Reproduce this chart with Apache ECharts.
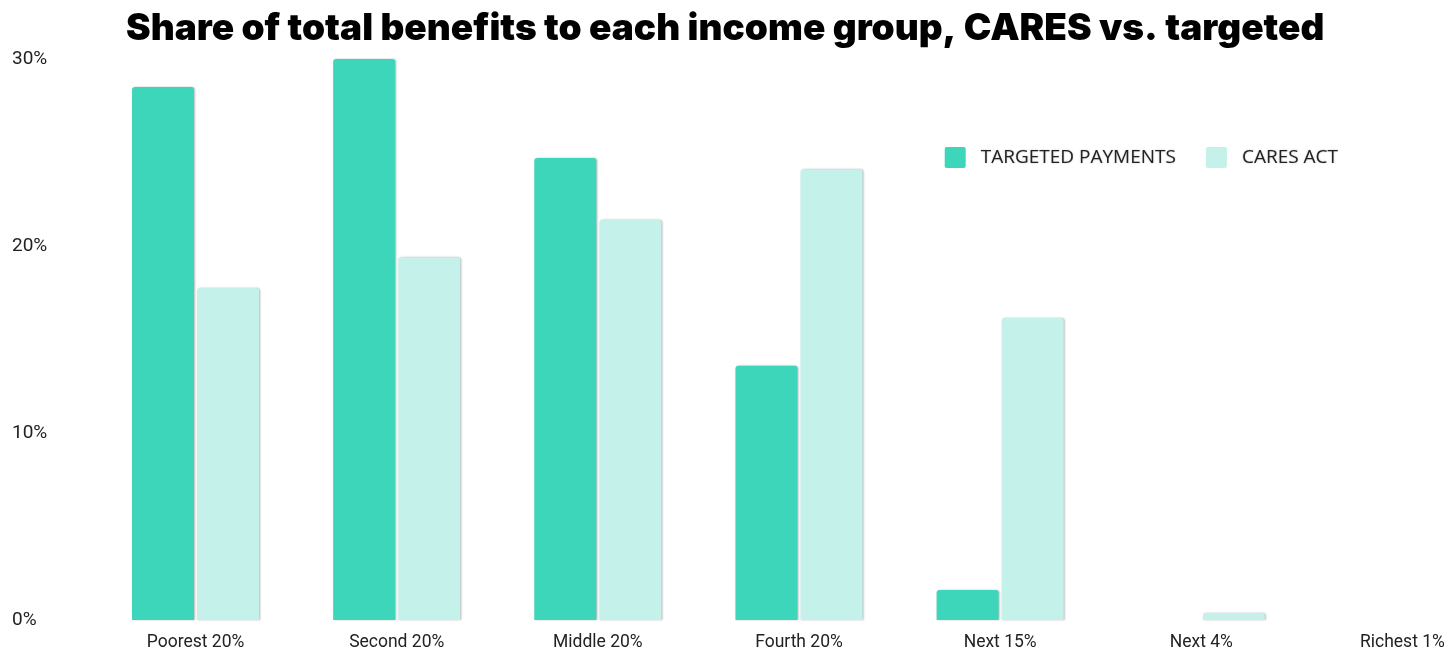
<!DOCTYPE html>
<html>
<head>
<meta charset="utf-8">
<script src="https://cdn.jsdelivr.net/npm/echarts@6/dist/echarts.min.js"></script>
<style>
  html, body { margin: 0; padding: 0; background: #ffffff; overflow: hidden; }
  /* the plot runs slightly past the right window edge, so the last band is clipped */
  #chart { width: 1503px; height: 650px; }
</style>
</head>
<body>
<div id="chart"></div>
<script>
// Income groups along the horizontal axis
const groups = ['Poorest 20%', 'Second 20%', 'Middle 20%', 'Fourth 20%', 'Next 15%', 'Next 4%', 'Richest 1%'];
// Share of total benefits (%) going to each group
const targetedPayments = [28.5, 30.0, 24.7, 13.6, 1.6, 0, 0];
const caresAct = [17.75, 19.4, 21.4, 24.1, 16.15, 0.37, 0];
const yTicks = [0, 10, 20, 30];

const chart = echarts.init(document.getElementById('chart'), null, { renderer: 'canvas' });

const barShadow = {
  shadowColor: 'rgba(0,0,0,0.28)',
  shadowBlur: 2,
  shadowOffsetX: 1,
  shadowOffsetY: 0
};

chart.setOption({
  animation: false,
  backgroundColor: '#ffffff',
  title: {
    text: 'Share of total benefits to each income group, CARES vs. targeted',
    left: 121,
    top: 5,
    textStyle: {
      fontFamily: 'Inter',
      fontWeight: 900,
      fontSize: 37,
      color: '#000000'
    }
  },
  legend: {
    right: 160,
    top: 142,
    itemWidth: 21,
    itemHeight: 21,
    itemGap: 30,
    icon: 'path://M2,0 L19,0 Q21,0 21,2 L21,19 Q21,21 19,21 L2,21 Q0,21 0,19 L0,2 Q0,0 2,0 Z',
    textStyle: {
      fontFamily: 'Open Sans',
      fontSize: 19,
      color: '#222222',
      padding: [0, 0, 0, 10],
      textShadowColor: 'rgba(0,0,0,0.25)',
      textShadowBlur: 2
    },
    data: ['TARGETED PAYMENTS', 'CARES ACT']
  },
  grid: {
    left: 95,
    right: 0,
    top: 59,
    bottom: 30,
    containLabel: false,
    outerBoundsMode: 'none'
  },
  xAxis: {
    type: 'category',
    data: groups,
    axisLine: { show: false },
    axisTick: { show: false },
    axisLabel: {
      margin: 14,
      fontFamily: 'Roboto',
      fontSize: 17.5,
      color: '#222222',
      interval: 0
    }
  },
  yAxis: {
    type: 'value',
    min: yTicks[0],
    max: yTicks[yTicks.length - 1],
    interval: 10,
    splitLine: { show: false },
    axisLine: { show: false },
    axisTick: { show: false },
    axisLabel: {
      align: 'left',
      margin: 83,
      padding: [3, 0, 0, 0],
      fontFamily: 'Roboto',
      fontSize: 19,
      color: '#222222',
      formatter: v => v + '%'
    }
  },
  series: [
    {
      name: 'TARGETED PAYMENTS',
      type: 'bar',
      data: targetedPayments,
      barWidth: 62,
      barGap: '5%',
      itemStyle: Object.assign({ color: '#3dd6bb', borderRadius: [3, 3, 0, 0] }, barShadow)
    },
    {
      name: 'CARES ACT',
      type: 'bar',
      data: caresAct,
      barWidth: 62,
      barGap: '5%',
      itemStyle: Object.assign({ color: '#c4f1e9', borderRadius: [3, 3, 0, 0] }, barShadow)
    }
  ]
});
</script>
</body>
</html>
